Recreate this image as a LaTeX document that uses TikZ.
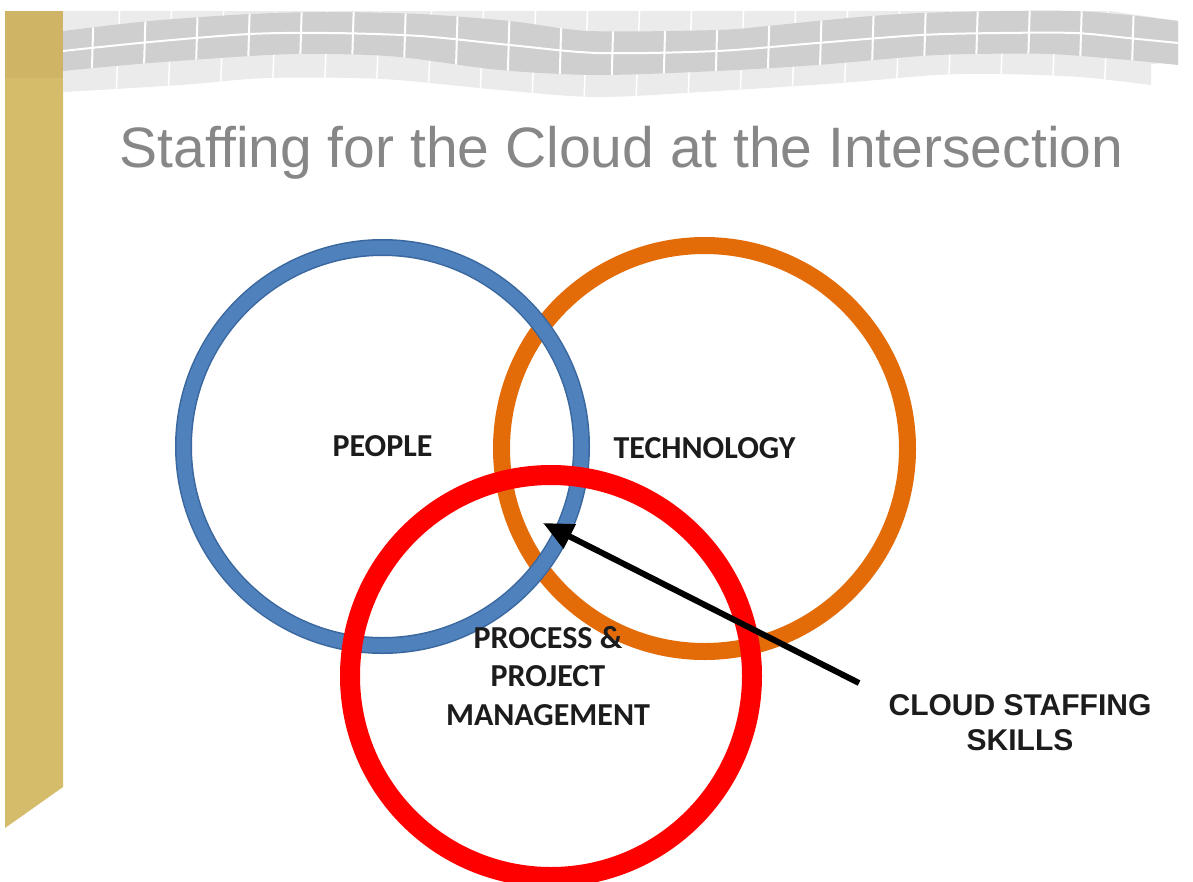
\documentclass[tikz,border=0pt]{standalone}
\usepackage{fontspec}
\setmainfont{Liberation Sans}
\newfontfamily\carlito{Carlito}
\usetikzlibrary{arrows.meta}
\definecolor{gold}{HTML}{D4BC6A}
\definecolor{golddark}{HTML}{D0B465}
\definecolor{tilelight}{HTML}{EBEBEB}
\definecolor{tiledark}{HTML}{CFCFCF}
\definecolor{titlegray}{HTML}{878787}
\definecolor{ringblue}{HTML}{4F81BD}
\definecolor{ringblueedge}{HTML}{3A679E}
\definecolor{ringorange}{HTML}{E36C09}
\definecolor{ringred}{HTML}{FF0000}
\definecolor{labeltext}{HTML}{1C1C1C}
\tikzset{
  ring/.style={circle, inner sep=0pt, outer sep=0pt, align=center,
    font=\carlito\bfseries\fontsize{32}{38.5}\selectfont, text=labeltext},
  gap/.style={white, line width=2pt},
  softgap/.style={white, line width=1.5pt},
  pointer/.style={black, line width=6pt, -{Triangle[length=30pt,width=26pt]}},
}
\begin{document}
\begin{tikzpicture}[x=1pt,y=-1pt]
\useasboundingbox (0,0) rectangle (1193,881);
\fill[white] (0,0) rectangle (1193,881);

% gold side bar
\fill[gold] (5,11) -- (63,11) -- (63,787) -- (5,828) -- cycle;
\fill[golddark] (5,11) rectangle (63,78);

% tiled banner
\path[save path=\lightband] (63,11) -- (1110,11) -- (1178,21) -- (1178,62) -- (1151,64) -- (1151,85)
  -- plot[smooth] coordinates {(1151,85) (1080,77) (1000,74) (936,75) (840,83) (717,91) (598,97) (500,90) (383,79) (268,78) (180,85) (63,92)} -- cycle;
\path[save path=\darkband] plot[smooth] coordinates {(63,31) (150,21) (250,14) (330,12) (420,14) (510,21) (590,31) (717,30) (767,26) (817,21) (871,16) (921,13) (1000,11) (1075,11) (1128,15) (1178,21)}
  -- plot[smooth] coordinates {(1178,65) (1128,60) (1050,54) (975,54) (921,56) (817,65) (717,71) (598,75) (500,70) (400,57) (330,54) (268,55) (150,63) (63,71)} -- cycle;
\fill[tilelight, use path=\lightband];
\begin{scope}
  \clip[use path=\lightband];
  \foreach \x in {120,172,...,1160} \draw[softgap] (\x,0) -- (\x-4,100);
\end{scope}
\fill[tiledark, use path=\darkband];
\begin{scope}
  \clip[use path=\darkband];
  \foreach \x in {94,146,...,1170} \draw[gap] (\x,0) -- (\x-3,100);
  \draw[gap] plot[smooth] coordinates {(63,51) (150,42) (250,34) (330,33) (420,36) (510,45) (598,53) (717,51) (817,43) (921,35) (1000,33) (1075,33) (1128,38) (1178,43)};
\end{scope}

% title
\node[anchor=base, text=titlegray, inner sep=0pt, font=\fontsize{57}{68}\selectfont] (title) at (621.5,167) {Staffing for the Cloud at the Intersection};

% rings
\node[ring, minimum size=406pt, draw=ringorange, line width=17pt] (technology) at (704.5,448.5) {TECHNOLOGY};
\node[ring, minimum size=398pt, draw=ringblueedge, line width=1.5pt, double=ringblue, double distance=14pt] (people) at (382.5,446.5) {PEOPLE};
\node[ring, minimum size=402pt, draw=ringred, line width=20pt] (process) at (551,676) {\hspace*{-6pt}PROCESS \&\\\hspace*{-6pt}PROJECT\\\hspace*{-6pt}MANAGEMENT};

% pointer
\node[align=center, inner sep=0pt, text=labeltext, font=\bfseries\fontsize{30}{35}\selectfont] (skills) at (1020,723) {CLOUD STAFFING\\SKILLS};
\coordinate (tail) at (859,683);
\coordinate (tip) at (543,523);
\draw[pointer] (tail) -- (tip);
\end{tikzpicture}
\end{document}
